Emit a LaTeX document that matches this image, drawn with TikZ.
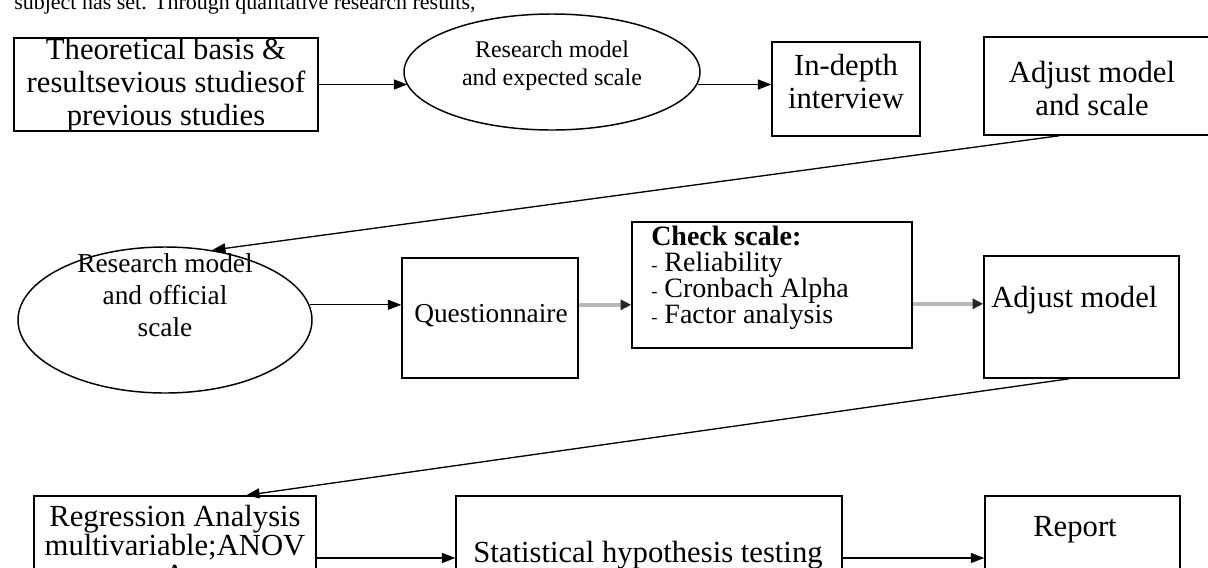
\documentclass[tikz,border=0pt]{standalone}
\usepackage{fontspec}
\setmainfont{Liberation Serif}
\usetikzlibrary{arrows.meta,shapes.geometric,calc}
\begin{document}
\begin{tikzpicture}[x=0.75pt,y=-0.75pt,
 frame/.style={draw,line width=1.1pt,rectangle,inner sep=0pt},
 oval/.style={draw,line width=1.1pt,ellipse,inner sep=0pt},
 lbl/.style={inner sep=0pt,align=center},
 big/.style={font=\fontsize{23}{24.75}\selectfont},
 mid/.style={font=\fontsize{20.5}{24}\selectfont},
 arr/.style={line width=1pt,-{Triangle[length=10pt,width=7.5pt]}},
 garr/.style={draw=gray!55,line width=2.6pt,-{Triangle[length=8pt,width=7.5pt,color=black!85]}},
]
\useasboundingbox (0,0) rectangle (1208,568);
\clip (0,0) rectangle (1208,568);
\fill[white] (0,0) rectangle (1208,568);

% cut-off running text at top
\node[inner sep=0pt,anchor=base west,font=\fontsize{16.5}{20}\selectfont] (top) at (14,9) {subject has set. Through qualitative research results,};

% row 1
\node[frame,minimum width=228pt,minimum height=69.75pt] (b1) at (166,84.5) {};
\node[lbl,big] (b1t) at (166,85.5) {Theoretical basis \&\\resultsevious studiesof\\previous studies};
\node[oval,minimum width=222pt,minimum height=87pt] (e1) at (552,72) {};
\node[lbl,font=\fontsize{18}{21}\selectfont] (e1t) at (552,66) {Research model\\and expected scale};
\node[frame,minimum width=111pt,minimum height=70.5pt] (b2) at (846,89) {};
\node[lbl,big] (b2t) at (846,82) {In-depth\\interview};
\node[frame,minimum width=184.5pt,minimum height=73.5pt] (b3) at (1107,86) {};
\node[lbl,big] (b3t) at (1092,89) {Adjust model\\and scale};

% row 2
\node[oval,minimum width=220.5pt,minimum height=109.5pt] (e2) at (165,320) {};
\node[lbl,mid] (e2t) at (165,295) {Research model\\and official\\scale};
\node[frame,minimum width=132pt,minimum height=90pt] (b4) at (490,318) {};
\node[lbl,mid] (b4t) at (491,316) {Questionnaire};
\node[frame,minimum width=210pt,minimum height=94.5pt] (b5) at (772,285) {};
\node[lbl,align=left,anchor=north west,font=\fontsize{21}{19.5}\selectfont] (b5t) at (651,226)
 {\textbf{Check scale:}\\{\fontsize{14}{14}\selectfont -} Reliability\\{\fontsize{14}{14}\selectfont -} Cronbach Alpha\\{\fontsize{14}{14}\selectfont -} Factor analysis};
\node[frame,minimum width=146.25pt,minimum height=91.5pt] (b6) at (1081.5,317) {};
\node[lbl,big,anchor=west] (b6t) at (991,300) {Adjust model};

% row 3
\node[frame,minimum width=211.5pt,minimum height=93pt] (b7) at (175,558) {};
\node[lbl,font=\fontsize{23}{22}\selectfont,anchor=north] (b7t) at (175,505) {Regression Analysis\\multivariable;ANOV\\A};
\node[frame,minimum width=289.5pt,minimum height=93pt] (b8) at (649,558) {};
\node[lbl,big] (b8t) at (648,555) {Statistical hypothesis testing};
\node[frame,minimum width=146.25pt,minimum height=93pt] (b9) at (1082.5,558) {};
\node[lbl,big] (b9t) at (1075,530) {Report};

% connectors
\draw[arr] (b1.east) -- ($(e1.west |- b1.east)+(4,0)$);
\draw[arr] ($(e1.east |- b1.east)+(-3,0)$) -- (b2.west |- b1.east);
\draw[arr] ($(b3.south west)+(76,0)$) -- (e2.56);
\draw[arr] (e2.6) -- (b4.west |- e2.6);
\draw[garr] (b4.east |- e2.6) -- (b5.west |- e2.6);
\draw[garr] ($(b5.east |- e2.6)+(0,-1)$) -- ($(b6.west |- e2.6)+(0,-1)$);
\draw[arr] ($(b6.south west)+(86,0)$) -- ($(b7.north west)+(213,0)$);
\draw[arr] (b7.east) -- (b8.west);
\draw[arr] (b8.east) -- (b9.west);
\end{tikzpicture}
\end{document}
